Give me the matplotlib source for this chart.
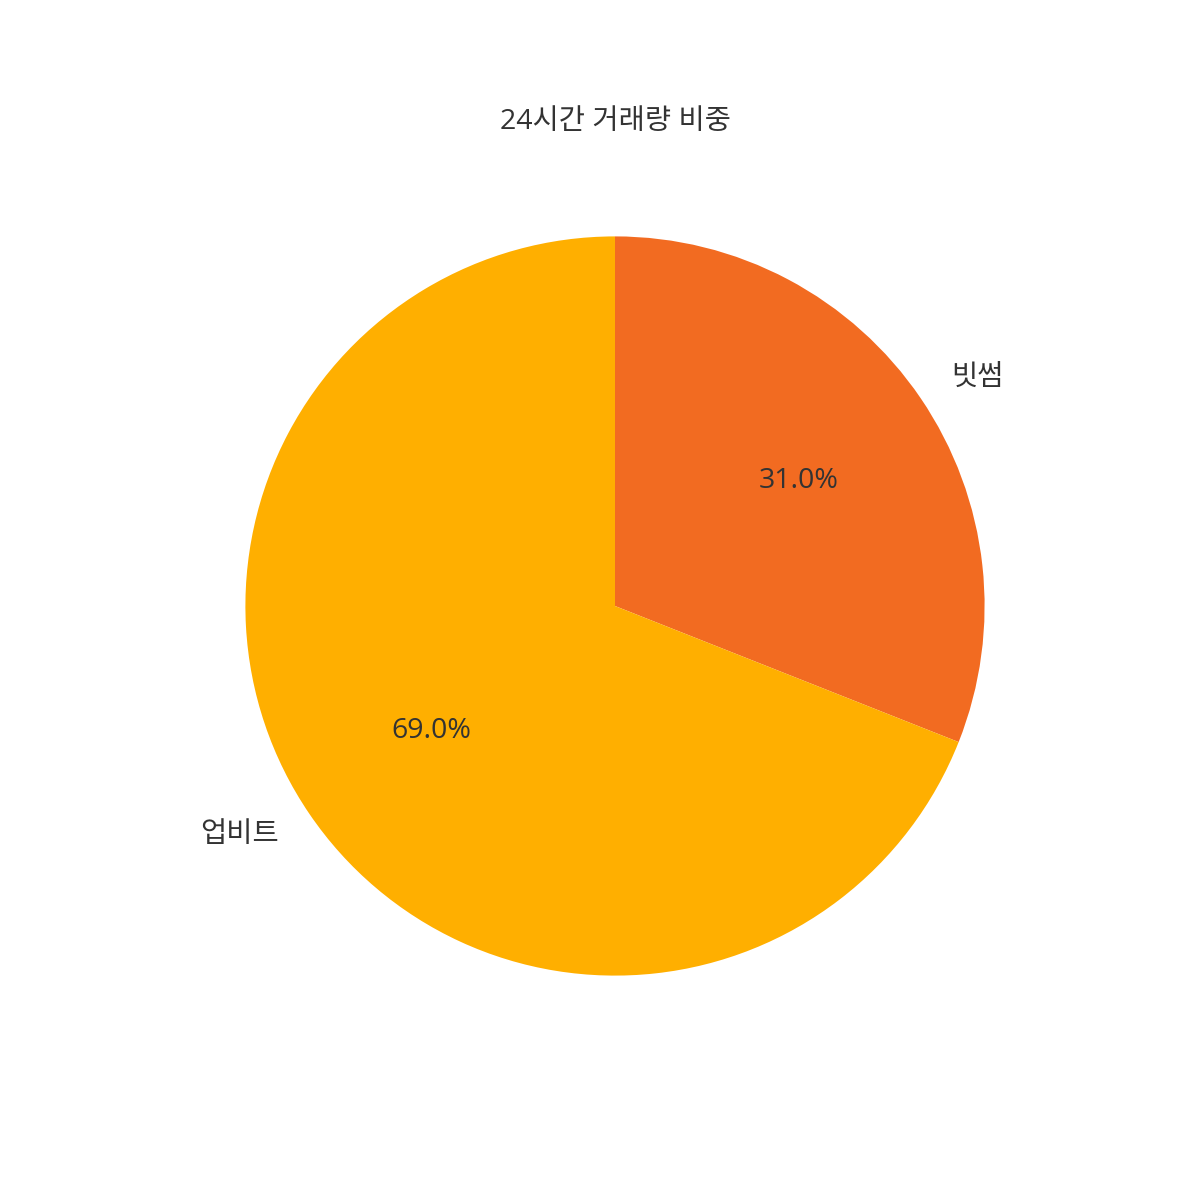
import matplotlib
matplotlib.use("Agg")
import matplotlib.pyplot as plt

plt.rcParams['font.family'] = ['Open Sans', 'Noto Sans CJK KR', 'DejaVu Sans']

labels = ['빗썸', '업비트']
values = [31.0, 69.0]
colors = ['#F26B21', '#FFAF00']
title = '24시간 거래량 비중'

fig, ax = plt.subplots(figsize=(12, 12), dpi=100)
wedges, texts, autotexts = ax.pie(values, labels=labels, colors=colors,
                                  autopct='%1.1f%%', startangle=90,
                                  counterclock=False,
                                  textprops={'fontsize': 20.5, 'color': '#333333'})
ax.set_title(title, fontsize=20.5, color='#333333', pad=11)
ax.set_aspect('equal')
fig.savefig('out.png', dpi=100, facecolor='white')
